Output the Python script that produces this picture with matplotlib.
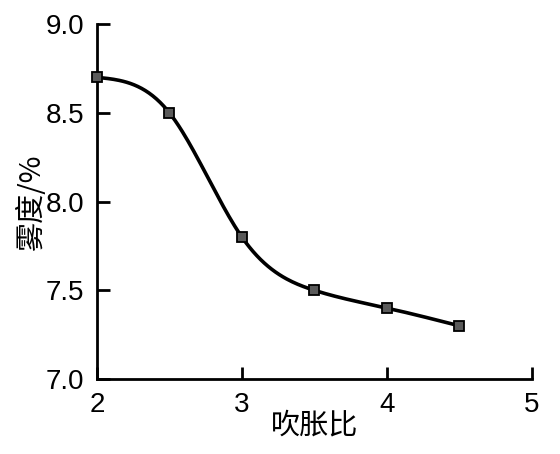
import numpy as np
import matplotlib
matplotlib.use("Agg")
import matplotlib.pyplot as plt

# data
blow_ratio = [2.0, 2.5, 3.0, 3.5, 4.0, 4.5]
haze = [8.7, 8.5, 7.8, 7.5, 7.4, 7.3]
x_ticks = [2, 3, 4, 5]
y_ticks = [7.0, 7.5, 8.0, 8.5, 9.0]


def natural_spline(x, y, n=40):
    # natural cubic spline through the points, only for a smooth line
    x = np.asarray(x, float)
    y = np.asarray(y, float)
    N = len(x)
    h = np.diff(x)
    A = np.zeros((N, N))
    b = np.zeros(N)
    A[0, 0] = A[-1, -1] = 1
    for i in range(1, N - 1):
        A[i, i - 1] = h[i - 1]
        A[i, i] = 2 * (h[i - 1] + h[i])
        A[i, i + 1] = h[i]
        b[i] = 6 * ((y[i + 1] - y[i]) / h[i] - (y[i] - y[i - 1]) / h[i - 1])
    M = np.linalg.solve(A, b)
    xs, ys = [], []
    for i in range(N - 1):
        t = np.linspace(x[i], x[i + 1], n)
        a = x[i + 1] - t
        c = t - x[i]
        s = (M[i] * a**3 + M[i + 1] * c**3) / (6 * h[i]) \
            + (y[i] / h[i] - M[i] * h[i] / 6) * a \
            + (y[i + 1] / h[i] - M[i + 1] * h[i] / 6) * c
        xs.append(t)
        ys.append(s)
    return np.concatenate(xs), np.concatenate(ys)


fig = plt.figure(figsize=(5.6, 4.54), dpi=100)
ax = fig.add_axes([0.173, 0.165, 0.777, 0.782])

sx, sy = natural_spline(blow_ratio, haze)
ax.plot(sx, sy, color="black", lw=2.6, zorder=2)
ax.plot(blow_ratio, haze, ls="none", marker="s", ms=7.5, mfc="#5a5a5a",
        mec="black", mew=1.3, zorder=3, clip_on=False)

ax.set_xlim(2, 5)
ax.set_ylim(7.0, 9.0)
ax.set_xticks(x_ticks)
ax.set_yticks(y_ticks)
ax.set_yticklabels([f"{v:.1f}" for v in y_ticks])

for s in ["top", "right"]:
    ax.spines[s].set_visible(False)
for s in ["left", "bottom"]:
    ax.spines[s].set_linewidth(2)

ax.tick_params(direction="in", length=9, width=2, labelsize=20, pad=9)
for lab in ax.get_xticklabels() + ax.get_yticklabels():
    lab.set_family("Liberation Sans")

ax.set_xlabel("吹胀比", family=["Noto Sans CJK SC", "DejaVu Sans"], fontsize=21, labelpad=-5)
ax.set_ylabel("雾度/%", family=["Noto Sans CJK SC", "DejaVu Sans"], fontsize=21, labelpad=-1)

fig.savefig("out.png", dpi=100)
